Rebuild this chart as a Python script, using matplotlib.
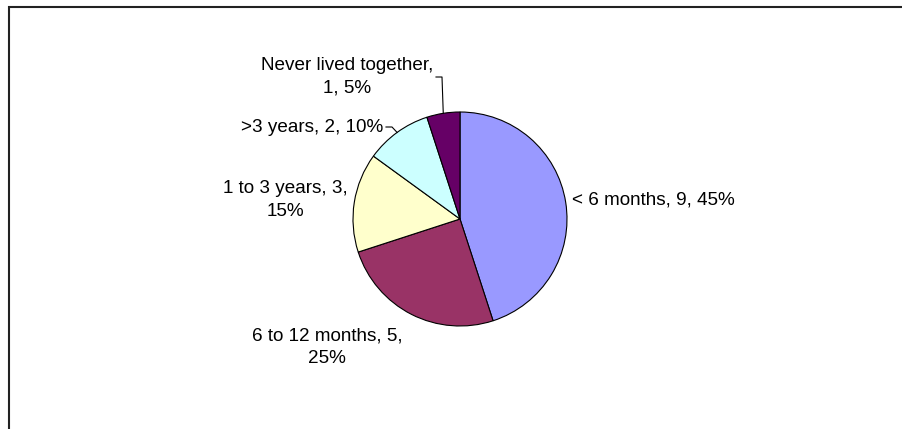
import matplotlib.pyplot as plt
from matplotlib.patches import Rectangle
import numpy as np

plt.rcParams['font.family'] = ['Liberation Sans', 'DejaVu Sans']

categories = ['< 6 months', '6 to 12 months', '1 to 3 years', '>3 years', 'Never lived together']
counts = [9, 5, 3, 2, 1]
colors = ['#9999FF', '#993366', '#FFFFCC', '#CCFFFF', '#660066']

W, H = 902, 429
cx, cy, r = 460, 219, 107

fig = plt.figure(figsize=(W / 100, H / 100), dpi=100)
ax = fig.add_axes([0, 0, 1, 1])

total = sum(counts)
pcts = [round(100 * c / total) for c in counts]

ax.pie(counts, colors=colors, startangle=90, counterclock=False,
       center=(cx, H - cy), radius=r,
       wedgeprops=dict(edgecolor='black', linewidth=0.8))
ax.set_xlim(0, W)
ax.set_ylim(0, H)
ax.set_aspect('auto')
ax.axis('off')

# label text, with a line break where the chart wraps it
labels = [f'{c}, {v}, {p}%' for c, v, p in zip(categories, counts, pcts)]
labels[1] = f'{categories[1]}, {counts[1]},\n{pcts[1]}%'
labels[2] = f'{categories[2]}, {counts[2]},\n{pcts[2]}%'
labels[4] = f'{categories[4]},\n{counts[4]}, {pcts[4]}%'

# (x, y in pixels from top, horizontal alignment)
label_pos = [(572, 200, 'left'), (327, 347, 'center'), (285, 200, 'center'),
             (383, 127, 'right'), (347, 77, 'center')]

for lab, (x, y, ha) in zip(labels, label_pos):
    ax.text(x, H - y, lab, ha=ha, va='center', fontsize=13.6,
            linespacing=1.45, multialignment='center')

# leader lines from the small slices' labels to the middle of each wedge
angles = 90 - 360 * (np.cumsum(counts) - np.array(counts) / 2) / total
elbows = {3: [(386, 127), (392, 127)], 4: [(436, 77), (442, 77)]}
for i, pts in elbows.items():
    a = np.deg2rad(angles[i])
    ex, ey = cx + r * np.cos(a), cy - r * np.sin(a)
    xs = [p[0] for p in pts] + [ex]
    ys = [H - p[1] for p in pts] + [H - ey]
    ax.plot(xs, ys, color='black', lw=0.8)

# chart area border
fig.patches.append(Rectangle((8.5 / W, -0.1), 1.2, (H - 7.5) / H + 0.1,
                             transform=fig.transFigure, fill=False,
                             edgecolor='#222222', linewidth=1.5))

fig.savefig('out.png', dpi=100, facecolor='white')
